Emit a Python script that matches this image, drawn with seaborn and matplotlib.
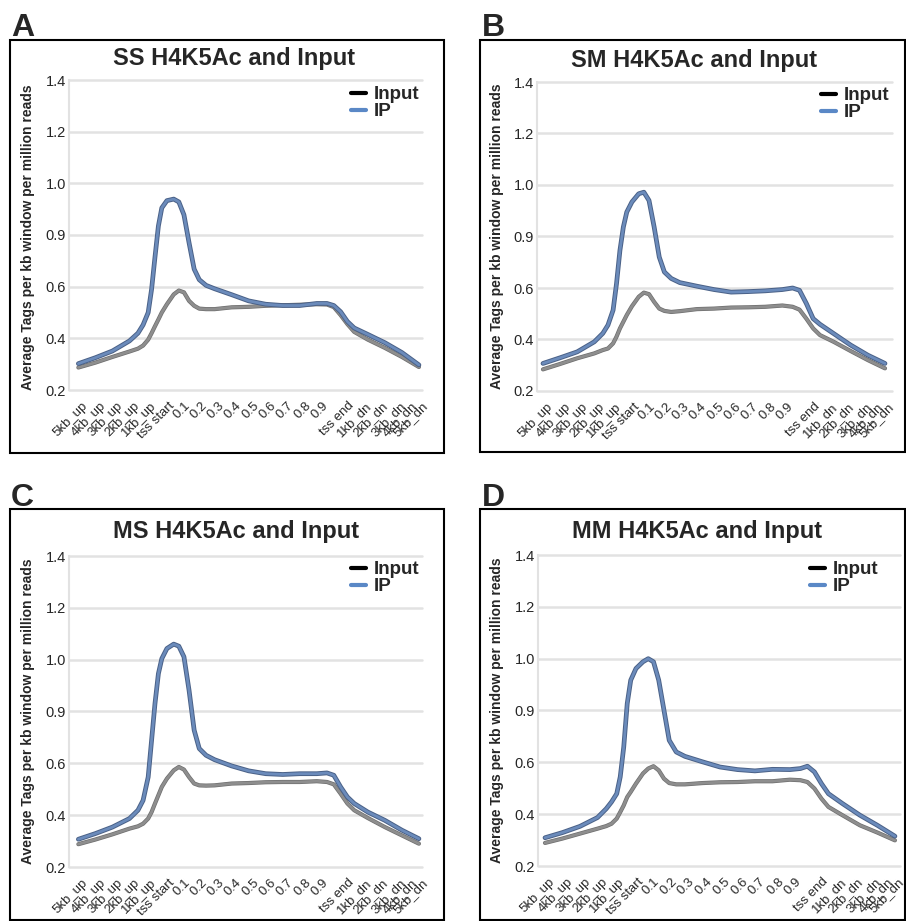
import numpy as np
import pandas as pd
import matplotlib
matplotlib.use('Agg')
import matplotlib.pyplot as plt
import seaborn as sns
from matplotlib.lines import Line2D
from matplotlib.patches import Rectangle
import matplotlib.patheffects as pe

sns.set_theme(style='white')
plt.rcParams['font.family'] = ['Liberation Sans', 'DejaVu Sans']

# ---------------- data ----------------
X_LABELS = ['5kb_up', '4kb_up', '3kb_up', '2kb_up', '1kb_up', 'tss start',
            '0.1', '0.2', '0.3', '0.4', '0.5', '0.6', '0.7', '0.8', '0.9',
            'tss end', '1kb_dn', '2kb_dn', '3kb_dn', '4kb_dn', '5kb_dn']
TICK_POS = [0.2, 1.25, 2.25, 3.25, 4.2, 5.3, 6.2, 7.2, 8.2, 9.2, 10.25, 11.25,
            12.25, 13.3, 14.3, 15.85, 16.85, 17.8, 18.85, 19.55, 20.15]
Y_TICKS = [0.2, 0.4, 0.6, 0.8, 1.0, 1.2, 1.4]
Y_TICK_LABELS = ['0.2', '0.4', '0.6', '0.9', '1.0', '1.2', '1.4']

POS = [0, 1, 2, 3, 3.5, 3.8, 4.1, 4.3, 4.5, 4.7, 4.9, 5.2, 5.6, 5.9, 6.2, 6.5,
       6.8, 7.1, 7.5, 8, 9, 10, 11, 12, 13, 14, 14.6, 15, 15.4, 15.8, 16.2,
       17, 18, 19, 20]

SS_IP = [0.302, 0.325, 0.351, 0.390, 0.420, 0.452, 0.500, 0.590, 0.715, 0.835,
         0.905, 0.933, 0.939, 0.928, 0.878, 0.770, 0.668, 0.627, 0.605, 0.592,
         0.569, 0.545, 0.532, 0.527, 0.527, 0.535, 0.535, 0.527, 0.503, 0.465,
         0.440, 0.415, 0.383, 0.345, 0.297]
SS_INPUT = [0.287, 0.306, 0.328, 0.349, 0.360, 0.372, 0.395, 0.420, 0.447, 0.473,
            0.500, 0.532, 0.570, 0.585, 0.578, 0.545, 0.526, 0.515, 0.513, 0.513,
            0.520, 0.522, 0.526, 0.528, 0.530, 0.532, 0.531, 0.521, 0.490, 0.455,
            0.425, 0.395, 0.363, 0.328, 0.289]

SM_IP = [0.307, 0.329, 0.352, 0.391, 0.424, 0.456, 0.514, 0.617, 0.746, 0.837,
         0.895, 0.934, 0.966, 0.972, 0.940, 0.837, 0.720, 0.662, 0.637, 0.621,
         0.607, 0.594, 0.584, 0.586, 0.589, 0.594, 0.600, 0.591, 0.540, 0.481,
         0.459, 0.423, 0.378, 0.339, 0.307]
SM_INPUT = [0.284, 0.305, 0.327, 0.346, 0.359, 0.365, 0.385, 0.411, 0.443, 0.469,
            0.495, 0.529, 0.566, 0.582, 0.576, 0.546, 0.520, 0.511, 0.507, 0.510,
            0.518, 0.520, 0.524, 0.525, 0.527, 0.532, 0.527, 0.516, 0.481, 0.443,
            0.417, 0.391, 0.355, 0.320, 0.288]

MS_IP = [0.307, 0.329, 0.354, 0.387, 0.419, 0.457, 0.547, 0.689, 0.831, 0.946,
         1.004, 1.043, 1.060, 1.052, 1.011, 0.882, 0.728, 0.657, 0.631, 0.614,
         0.590, 0.571, 0.560, 0.557, 0.560, 0.560, 0.563, 0.554, 0.509, 0.470,
         0.445, 0.412, 0.380, 0.342, 0.309]
MS_INPUT = [0.288, 0.306, 0.326, 0.348, 0.357, 0.367, 0.387, 0.412, 0.445, 0.477,
            0.509, 0.541, 0.573, 0.586, 0.576, 0.547, 0.522, 0.515, 0.514, 0.515,
            0.522, 0.524, 0.527, 0.528, 0.528, 0.531, 0.528, 0.519, 0.483, 0.445,
            0.419, 0.389, 0.354, 0.322, 0.290]

MM_IP = [0.309, 0.329, 0.353, 0.387, 0.421, 0.447, 0.479, 0.544, 0.659, 0.827,
         0.917, 0.962, 0.988, 1.000, 0.988, 0.917, 0.801, 0.685, 0.640, 0.623,
         0.602, 0.582, 0.572, 0.567, 0.573, 0.572, 0.576, 0.585, 0.563, 0.518,
         0.479, 0.441, 0.396, 0.357, 0.315]
MM_INPUT = [0.289, 0.306, 0.325, 0.344, 0.354, 0.363, 0.383, 0.408, 0.434, 0.466,
            0.486, 0.518, 0.557, 0.576, 0.585, 0.569, 0.537, 0.520, 0.515, 0.515,
            0.520, 0.523, 0.524, 0.527, 0.527, 0.533, 0.531, 0.524, 0.499, 0.460,
            0.428, 0.396, 0.357, 0.329, 0.299]

TITLES = ['SS H4K5Ac and Input', 'SM H4K5Ac and Input',
          'MS H4K5Ac and Input', 'MM H4K5Ac and Input']
LETTERS = ['A', 'B', 'C', 'D']
SERIES = ['Input', 'IP']
Y_LABEL = 'Average Tags per kb window per million reads'

# ---------------- layout (pixels) ----------------
W, H = 906, 921
fig = plt.figure(figsize=(W / 100, H / 100), dpi=100)

layout = [
    dict(box=(10, 40, 444, 453), ax=(69, 80, 422, 390), xlim=(-0.55, 20.18),
         title=(234, 59), ylab=(28, 237), leg=(419, 86), letter=(11, 36)),
    dict(box=(480, 40, 905, 452), ax=(537, 82, 892, 391), xlim=(-0.35, 20.41),
         title=(694, 60), ylab=(497, 236), leg=(889, 87), letter=(482, 36)),
    dict(box=(10, 509, 444, 920), ax=(69, 556, 422, 867), xlim=(-0.55, 20.18),
         title=(236, 531), ylab=(28, 711), leg=(419, 561), letter=(11, 506)),
    dict(box=(480, 509, 905, 920), ax=(538, 555, 900, 866), xlim=(-0.4, 20.29),
         title=(697, 531), ylab=(497, 710), leg=(878, 561), letter=(482, 506)),
]
data = [(SS_IP, SS_INPUT), (SM_IP, SM_INPUT), (MS_IP, MS_INPUT), (MM_IP, MM_INPUT)]

GRID = '#e2e2e2'
IP_COLOR = '#6b8bbb'
IP_EDGE = '#4a6187'
IN_COLOR = '#8e8e8e'
IN_EDGE = '#6e6e6e'

for i, L in enumerate(layout):
    ip, inp = data[i]
    l, t, r, b = L['ax']
    ax = fig.add_axes([l / W, 1 - b / H, (r - l) / W, (b - t) / H])
    df = pd.DataFrame({'pos': POS, 'IP': ip, 'Input': inp})
    sns.lineplot(data=df, x='pos', y='Input', ax=ax, color=IN_COLOR, lw=2.0,
                 path_effects=[pe.Stroke(linewidth=3.0, foreground=IN_EDGE), pe.Normal()])
    sns.lineplot(data=df, x='pos', y='IP', ax=ax, color=IP_COLOR, lw=2.0,
                 path_effects=[pe.Stroke(linewidth=3.4, foreground=IP_EDGE), pe.Normal()])
    ax.set_xlim(*L['xlim'])
    ax.set_ylim(0.2, 1.4)
    ax.set_yticks(Y_TICKS)
    ax.set_yticklabels(Y_TICK_LABELS, fontsize=10.5, color='#262626')
    ax.set_xticks(TICK_POS)
    ax.set_xticklabels(X_LABELS, rotation=45, ha='right', va='top',
                       rotation_mode='anchor', fontsize=9.5, color='#262626')
    ax.tick_params(axis='x', length=0, pad=7)
    ax.tick_params(axis='y', length=0, pad=2)
    ax.set_xlabel('')
    ax.set_ylabel('')
    ax.grid(axis='y', color=GRID, lw=1.8)
    ax.grid(axis='x', visible=False)
    for gl in ax.get_ygridlines():
        gl.set_clip_on(False)
    ax.set_axisbelow(True)
    for s in ['top', 'right', 'bottom']:
        ax.spines[s].set_visible(False)
    ax.spines['left'].set_color(GRID)
    ax.spines['left'].set_linewidth(1.5)

    handles = [Line2D([], [], color='black', lw=3),
               Line2D([], [], color='#5a88c6', lw=3)]
    lx, ly = L['leg']
    ax.legend(handles, SERIES, loc='upper right',
              bbox_to_anchor=(lx / W, 1 - ly / H), bbox_transform=fig.transFigure,
              frameon=False, handlelength=0.8, handletextpad=0.4,
              labelspacing=0.0, borderpad=0, borderaxespad=0,
              prop={'weight': 'bold', 'size': 13.5})

    bl, bt, br, bb = L['box']
    fig.add_artist(Rectangle((bl / W, 1 - bb / H), (br - bl) / W, (bb - bt) / H,
                             transform=fig.transFigure, fill=False,
                             ec='black', lw=1.5))
    tx, ty = L['title']
    fig.text(tx / W, 1 - ty / H, TITLES[i], ha='center', va='center',
             fontsize=17, fontweight='bold')
    yx, yy = L['ylab']
    fig.text(yx / W, 1 - yy / H, Y_LABEL, rotation=90, ha='center', va='center',
             fontsize=10, fontweight='bold')
    px, py = L['letter']
    fig.text(px / W, 1 - py / H, LETTERS[i], ha='left', va='baseline',
             fontsize=23, fontweight='bold')

fig.savefig('out.png', dpi=100)
